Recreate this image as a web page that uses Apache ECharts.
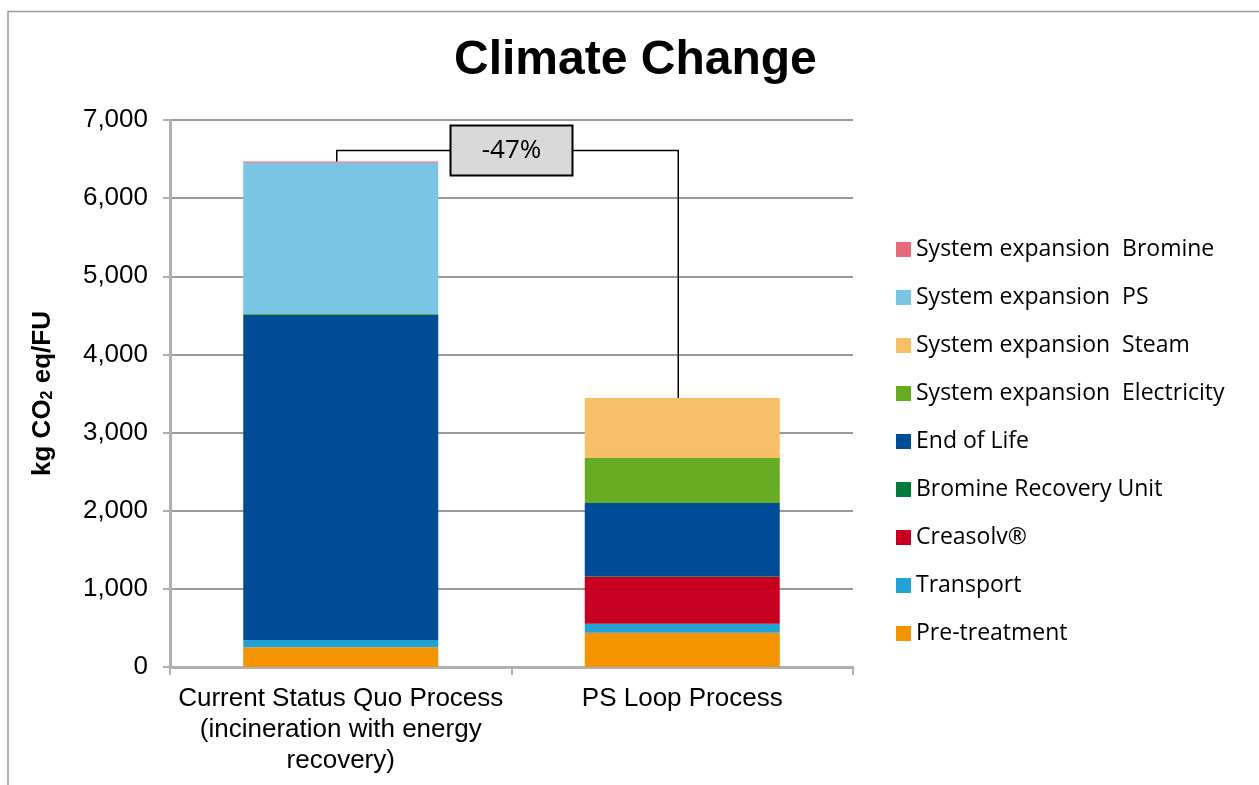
<!DOCTYPE html>
<html>
<head>
<meta charset="utf-8">
<script src="https://cdn.jsdelivr.net/npm/echarts@6/dist/echarts.min.js"></script>
<style>
  html, body { margin: 0; padding: 0; background: #fff; }
  #chart { width: 1259px; height: 785px; }
</style>
</head>
<body>
<div id="chart"></div>
<script>
// Process categories (x axis)
const categories = [
  'Current Status Quo Process\n(incineration with energy\nrecovery)',
  'PS Loop Process'
];

// Contributions in kg CO2 eq per FU, one value per category (stacked bottom to top)
const preTreatment        = [252, 439];
const transport           = [93, 115];
const creasolv            = [0, 598];
const bromineRecoveryUnit = [0, 8];
const endOfLife           = [4160, 939];
const sysExpElectricity   = [12, 576];
const sysExpSteam         = [0, 768];
const sysExpPS            = [1937, 0];
const sysExpBromine       = [15, 0];

// Y axis ticks
const yMin = 0, yMax = 7000, yStep = 1000;

const stackDefs = [
  { name: 'Pre-treatment',                 data: preTreatment,        color: '#f39400' },
  { name: 'Transport',                     data: transport,           color: '#23a3d4' },
  { name: 'Creasolv®',                     data: creasolv,            color: '#c70022' },
  { name: 'Bromine Recovery Unit',         data: bromineRecoveryUnit, color: '#007a3d' },
  { name: 'End of Life',                   data: endOfLife,           color: '#004c97' },
  { name: 'System expansion  Electricity', data: sysExpElectricity,   color: '#66ab22' },
  { name: 'System expansion  Steam',       data: sysExpSteam,         color: '#f7bf68' },
  { name: 'System expansion  PS',          data: sysExpPS,            color: '#7bc5e4' },
  { name: 'System expansion  Bromine',     data: sysExpBromine,       color: '#e56a7c' }
];

const totals = categories.map((_, i) => stackDefs.reduce((s, d) => s + d.data[i], 0));

const chart = echarts.init(document.getElementById('chart'), null, { renderer: 'canvas' });

const option = {
  backgroundColor: '#ffffff',
  animation: false,
  title: {
    text: 'Climate Change',
    left: 449,
    top: 32,
    textStyle: { fontFamily: 'Liberation Sans, Arial', fontWeight: 'bold', fontSize: 48, color: '#000' }
  },
  legend: {
    orient: 'vertical',
    left: 891,
    top: 233,
    itemWidth: 15,
    itemHeight: 15,
    itemGap: 25,
    icon: 'rect',
    data: stackDefs.map(d => d.name).reverse(),
    textStyle: { fontFamily: 'Open Sans', fontSize: 23, color: '#000', lineHeight: 20 }
  },
  grid: { left: 170, right: 406, top: 120, bottom: 118, containLabel: false },
  xAxis: {
    type: 'category',
    data: categories,
    axisLine: { lineStyle: { color: '#b0b0b0', width: 3 } },
    axisTick: { show: true, length: 8, lineStyle: { color: '#b0b0b0', width: 2 } },
    axisLabel: {
      fontFamily: 'Liberation Sans, Arial', fontSize: 26, color: '#000',
      lineHeight: 31, margin: 16, interval: 0
    }
  },
  yAxis: {
    type: 'value',
    min: yMin, max: yMax, interval: yStep,
    name: '{a|kg CO}{s|2}{a| eq/FU}',
    nameLocation: 'middle',
    nameGap: 114,
    nameRotate: 90,
    nameTextStyle: {
      rich: {
        a: { fontFamily: 'Liberation Sans, Arial', fontWeight: 'bold', fontSize: 26, color: '#000' },
        s: { fontFamily: 'Liberation Sans, Arial', fontWeight: 'bold', fontSize: 16, color: '#000', padding: [11, 0, 0, 0] }
      }
    },
    axisLine: { show: true, lineStyle: { color: '#b0b0b0', width: 3 } },
    axisTick: { show: true, length: 7, lineStyle: { color: '#b0b0b0', width: 2 } },
    axisLabel: {
      fontFamily: 'Liberation Sans, Arial', fontSize: 26, color: '#000', margin: 22,
      formatter: v => v.toLocaleString('en-US')
    },
    splitLine: { lineStyle: { color: '#9a9a9a', width: 2 } }
  },
  series: stackDefs.map(d => ({
    name: d.name,
    type: 'bar',
    stack: 'total',
    barWidth: 195,
    data: d.data,
    itemStyle: { color: d.color },
    emphasis: { disabled: true }
  }))
};

chart.setOption(option);

// Comparison bracket between the two stacked totals
function drawComparison() {
  const p1 = chart.convertToPixel({ xAxisIndex: 0, yAxisIndex: 0 }, [0, totals[0]]);
  const p2 = chart.convertToPixel({ xAxisIndex: 0, yAxisIndex: 0 }, [1, totals[1]]);
  const lineY = p1[1] - 11;
  const x1 = p1[0] - 4, x2 = p2[0] - 4;
  const cx = (p1[0] + p2[0]) / 2;
  const boxW = 122, boxH = 50;
  const change = Math.round((totals[1] / totals[0] - 1) * 100);
  chart.setOption({
    graphic: [
      {
        type: 'polyline', silent: true,
        shape: { points: [[8, 785], [8, 11.5], [1259, 11.5]] },
        style: { stroke: '#9a9a9a', lineWidth: 1.5, fill: null }
      },
      {
        type: 'polyline', silent: true, z: 10,
        shape: { points: [[x1, p1[1]], [x1, lineY], [cx - boxW / 2, lineY]] },
        style: { stroke: '#000', lineWidth: 1.5, fill: null }
      },
      {
        type: 'polyline', silent: true, z: 10,
        shape: { points: [[cx + boxW / 2, lineY], [x2, lineY], [x2, p2[1]]] },
        style: { stroke: '#000', lineWidth: 1.5, fill: null }
      },
      {
        type: 'rect', silent: true, z: 11,
        shape: { x: cx - boxW / 2, y: lineY - boxH / 2, width: boxW, height: boxH },
        style: { fill: '#d9d9d9', stroke: '#000', lineWidth: 2 }
      },
      {
        type: 'text', silent: true, z: 12,
        x: cx, y: lineY,
        style: {
          text: change + '%', fill: '#000',
          font: '26px "Open Sans"', align: 'center', verticalAlign: 'middle'
        }
      }
    ]
  });
}
drawComparison();
</script>
</body>
</html>
